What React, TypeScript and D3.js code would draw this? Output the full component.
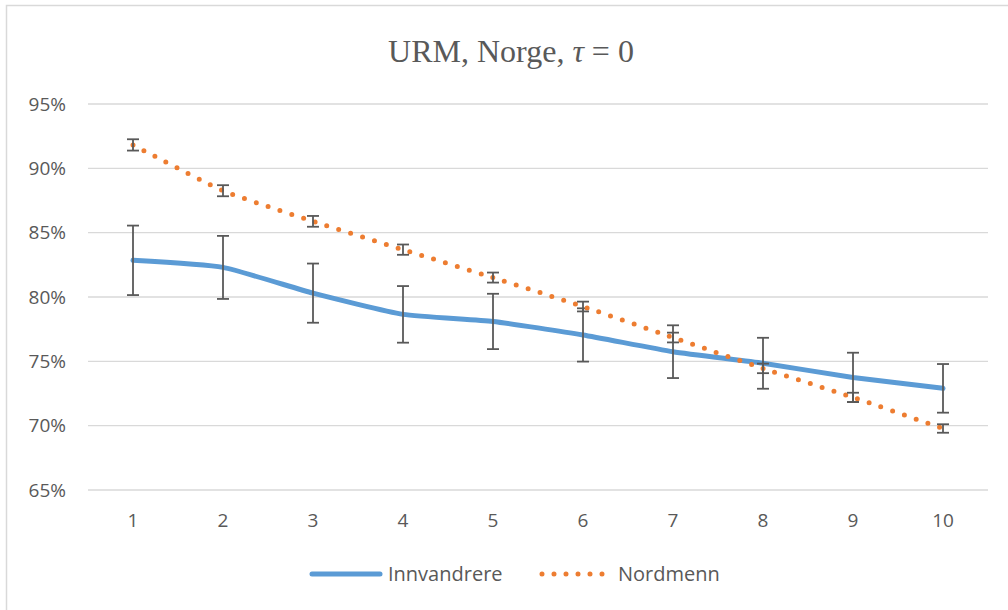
import { useRef, useEffect } from "react";
import * as d3 from "d3";

const categories = ["1", "2", "3", "4", "5", "6", "7", "8", "9", "10"];
const innvandrere = [82.85, 82.3, 80.3, 78.65, 78.1, 77.05, 75.75, 74.85, 73.75, 72.9];
const innvandrereErr = [2.7, 2.45, 2.3, 2.2, 2.15, 2.07, 2.05, 1.98, 1.92, 1.89];
const nordmenn = [91.82, 88.26, 85.88, 83.68, 81.51, 79.26, 76.85, 74.45, 72.2, 69.78];
const nordmennErr = [0.44, 0.43, 0.42, 0.4, 0.39, 0.38, 0.38, 0.37, 0.36, 0.33];
const yTicks = [65, 70, 75, 80, 85, 90, 95];

const W = 1008;
const H = 610;
const LABEL_FONT = "'Open Sans', 'Noto Sans', sans-serif";
const TEXT_COLOR = "#595959";
const GRID_COLOR = "#D9D9D9";
const BLUE = "#5B9BD5";
const ORANGE = "#ED7D31";

export default function App() {
  const svgRef = useRef<SVGSVGElement>(null);

  useEffect(() => {
    if (!svgRef.current) return;
    const svg = d3.select(svgRef.current);
    svg.selectAll("*").remove();

    const x = d3.scaleBand().domain(categories).range([88, 988]);
    const y = d3.scaleLinear().domain([65, 95]).range([490, 104]);
    const cx = (c: string) => (x(c) ?? 0) + x.bandwidth() / 2;

    // Chart border (cut off at right and bottom)
    svg
      .append("rect")
      .attr("x", 6.5)
      .attr("y", 5.5)
      .attr("width", W + 10)
      .attr("height", H + 10)
      .attr("fill", "#fff")
      .attr("stroke", GRID_COLOR)
      .attr("stroke-width", 1.5);

    // Title
    const title = svg
      .append("text")
      .attr("x", 511)
      .attr("y", 62)
      .attr("text-anchor", "middle")
      .attr("fill", TEXT_COLOR)
      .attr("font-family", "'Liberation Serif', 'Times New Roman', serif")
      .attr("font-size", "32px");
    title.append("tspan").text("URM, Norge, ");
    title.append("tspan").attr("font-style", "italic").text("τ");
    title.append("tspan").text(" = 0");

    // Gridlines
    svg
      .append("g")
      .selectAll("line")
      .data(yTicks)
      .join("line")
      .attr("x1", 88)
      .attr("x2", 988)
      .attr("y1", (d) => y(d))
      .attr("y2", (d) => y(d))
      .attr("stroke", GRID_COLOR)
      .attr("stroke-width", 1.3);

    // Y tick labels
    svg
      .append("g")
      .selectAll("text")
      .data(yTicks)
      .join("text")
      .attr("x", 66)
      .attr("y", (d) => y(d))
      .attr("dy", "0.35em")
      .attr("text-anchor", "end")
      .attr("fill", TEXT_COLOR)
      .attr("font-family", LABEL_FONT)
      .attr("font-size", "19px")
      .text((d) => `${d}%`);

    // X tick labels
    svg
      .append("g")
      .selectAll("text")
      .data(categories)
      .join("text")
      .attr("x", (d) => cx(d))
      .attr("y", 527)
      .attr("text-anchor", "middle")
      .attr("fill", TEXT_COLOR)
      .attr("font-family", LABEL_FONT)
      .attr("font-size", "19px")
      .text((d) => d);

    // Excel-style smoothing, a bit tighter than plain Catmull-Rom
    const line = d3
      .line<number>()
      .x((_, i) => cx(categories[i]))
      .y((d) => y(d))
      .curve(d3.curveCardinal.tension(0.5));

    const drawErrors = (vals: number[], errs: number[]) => {
      const g = svg.append("g").attr("stroke", TEXT_COLOR).attr("stroke-width", 1.8);
      vals.forEach((v, i) => {
        const px = cx(categories[i]);
        const top = y(v + errs[i]);
        const bot = y(v - errs[i]);
        g.append("line").attr("x1", px).attr("x2", px).attr("y1", top).attr("y2", bot);
        g.append("line").attr("x1", px - 6).attr("x2", px + 6).attr("y1", top).attr("y2", top);
        g.append("line").attr("x1", px - 6).attr("x2", px + 6).attr("y1", bot).attr("y2", bot);
      });
    };

    // Innvandrere
    svg
      .append("path")
      .attr("d", line(innvandrere))
      .attr("fill", "none")
      .attr("stroke", BLUE)
      .attr("stroke-width", 5)
      .attr("stroke-linecap", "round")
      .attr("stroke-linejoin", "round");
    drawErrors(innvandrere, innvandrereErr);

    // Nordmenn
    svg
      .append("path")
      .attr("d", line(nordmenn))
      .attr("fill", "none")
      .attr("stroke", ORANGE)
      .attr("stroke-width", 5)
      .attr("stroke-linecap", "round")
      .attr("stroke-dasharray", "0 12.4");
    drawErrors(nordmenn, nordmennErr);

    // Legend
    const legend = svg.append("g").attr("font-family", LABEL_FONT).attr("font-size", "20px").attr("fill", TEXT_COLOR);
    legend
      .append("line")
      .attr("x1", 312)
      .attr("x2", 380)
      .attr("y1", 574)
      .attr("y2", 574)
      .attr("stroke", BLUE)
      .attr("stroke-width", 5)
      .attr("stroke-linecap", "round");
    legend.append("text").attr("x", 388).attr("y", 581).text("Innvandrere");
    legend
      .append("line")
      .attr("x1", 542)
      .attr("x2", 606)
      .attr("y1", 574)
      .attr("y2", 574)
      .attr("stroke", ORANGE)
      .attr("stroke-width", 5)
      .attr("stroke-linecap", "round")
      .attr("stroke-dasharray", "0 12");
    legend.append("text").attr("x", 618).attr("y", 581).text("Nordmenn");
  }, []);

  return (
    <div style={{ position: "fixed", left: 0, top: 0, width: W, height: H, background: "#fff" }}>
      <svg ref={svgRef} width={W} height={H} />
    </div>
  );
}
